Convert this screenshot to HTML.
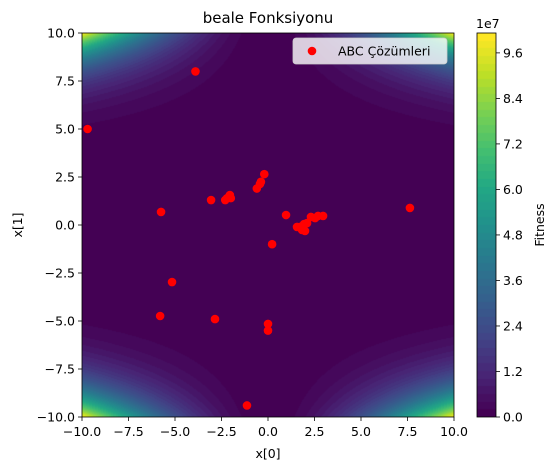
<!DOCTYPE html>
<html><head><meta charset="utf-8">
<style>
body{margin:0;background:#fff;width:557px;height:470px;overflow:hidden;font-family:"Liberation Sans","DejaVu Sans",sans-serif;}
#wrap{position:relative;width:557px;height:470px;}
canvas{position:absolute;}
svg{position:absolute;left:0;top:0;}
text{font-family:"DejaVu Sans","Liberation Sans",sans-serif;font-size:12.5px;fill:#000;}
</style></head>
<body>
<div id="wrap">
<canvas id="heat" width="372" height="384" style="left:82px;top:33px"></canvas>
<canvas id="cbar" width="19" height="384" style="left:477px;top:33px"></canvas>
<svg id="svg" width="557" height="470"></svg>
</div>
<script>
const xTicks=[-10,-7.5,-5,-2.5,0,2.5,5,7.5,10];
const yTicks=[-10,-7.5,-5,-2.5,0,2.5,5,7.5,10];
const cbTicks=[0,1.2,2.4,3.6,4.8,6.0,7.2,8.4,9.6];
const ptsX=[-3.9,-9.7,-5.75,-3.06,-2.3,-2.2,-2.05,-2.0,-0.6,-0.43,-0.38,-0.2,0.97,0.22,1.56,1.72,1.88,1.99,1.83,1.94,2.1,2.31,2.53,2.69,2.96,7.63,-5.8,-5.16,-2.85,0.0,0.0,-1.13];
const ptsY=[8.0,5.0,0.68,1.3,1.3,1.4,1.56,1.4,1.9,2.14,2.25,2.65,0.52,-1.0,-0.1,-0.1,-0.16,-0.31,-0.26,0.05,0.1,0.42,0.36,0.47,0.47,0.89,-4.74,-2.97,-4.9,-5.15,-5.5,-9.4];

const L=82,T=33,W=372,H=384;
const sx=v=>L+(v+10)/20*W, sy=v=>T+(10-v)/20*H;
function beale(x,y){return (1.5-x+x*y)**2+(2.25-x+x*y*y)**2+(2.625-x+x*y*y*y)**2;}
const vmax=Math.max(beale(10,10),beale(-10,10),beale(10,-10),beale(-10,-10));
const stops=["#440154","#482475","#414487","#355f8d","#2a788e","#21918c","#22a884","#44bf70","#7ad151","#bddf26","#fde725"].map(h=>[parseInt(h.slice(1,3),16),parseInt(h.slice(3,5),16),parseInt(h.slice(5,7),16)]);
function vir(t){t=Math.max(0,Math.min(1,t));const f=t*10,i=Math.min(9,Math.floor(f)),r=f-i;return stops[i].map((c,k)=>Math.round(c+(stops[i+1][k]-c)*r));}
const NL=50;
function band(v){const i=Math.min(NL-1,Math.floor(v/vmax*NL));return vir(i/(NL-1));}
(function(){const c=document.getElementById('heat').getContext('2d');const img=c.createImageData(W,H);
for(let j=0;j<H;j++)for(let i=0;i<W;i++){const x=-10+(i+0.5)/W*20,y=10-(j+0.5)/H*20;const col=band(beale(x,y));const p=(j*W+i)*4;img.data[p]=col[0];img.data[p+1]=col[1];img.data[p+2]=col[2];img.data[p+3]=255;}
c.putImageData(img,0,0);
const cb=document.getElementById('cbar').getContext('2d');
for(let j=0;j<H;j++){const col=band((1-(j+0.5)/H)*vmax);cb.fillStyle=`rgb(${col})`;cb.fillRect(0,j,19,1);}})();

const svg=document.getElementById('svg');const NS="http://www.w3.org/2000/svg";
function mk(tag,a,txt){const e=document.createElementNS(NS,tag);for(const k in a)e.setAttribute(k,a[k]);if(txt!==undefined)e.textContent=txt;svg.appendChild(e);return e;}
const fmt=v=>(v<0?"\u2212":"")+Math.abs(v).toFixed(1);
xTicks.forEach(v=>{const x=sx(v);
 const t=mk('line',{x1:x,x2:x,y1:T+H,y2:T+H+4,stroke:'#000','stroke-width':0.8});
 const l=mk('text',{x:x,y:T+H+19,'text-anchor':'middle'},fmt(v));});
yTicks.forEach(v=>{const y=sy(v);
 const t=mk('line',{x1:L-4,x2:L,y1:y,y2:y,stroke:'#000','stroke-width':0.8});
 const l=mk('text',{x:L-7,y:y+4.5,'text-anchor':'end'},fmt(v));});
ptsX.forEach((v,i)=>{const c=mk('circle',{cx:sx(v),cy:sy(ptsY[i]),r:4.3,fill:'#ff0000'});});
const fr=mk('rect',{x:L,y:T,width:W,height:H,fill:'none',stroke:'#000','stroke-width':0.8});
const cbx=477,cbw=19;
const cf=mk('rect',{x:cbx,y:T,width:cbw,height:H,fill:'none',stroke:'#000','stroke-width':0.8});
cbTicks.forEach(v=>{const y=T+H-v*1e7/vmax*H;
 const t=mk('line',{x1:cbx+cbw,x2:cbx+cbw+4,y1:y,y2:y,stroke:'#000','stroke-width':0.8});
 const l=mk('text',{x:cbx+cbw+7,y:y+4.5},v.toFixed(1));});
</script>
<script>
(function(){const svg=document.getElementById('svg');const NS="http://www.w3.org/2000/svg";
function mk(tag,a,txt){const e=document.createElementNS(NS,tag);for(const k in a)e.setAttribute(k,a[k]);if(txt!==undefined)e.textContent=txt;svg.appendChild(e);return e;}
let e;
e=mk('text',{x:268,y:23,'text-anchor':'middle',style:'font-size:15px'},'beale Fonksiyonu');
e=mk('text',{x:268,y:458,'text-anchor':'middle'},'x[0]');
e=mk('text',{x:0,y:0,'text-anchor':'middle',transform:'translate(22,225) rotate(-90)'},'x[1]');
e=mk('text',{x:0,y:0,'text-anchor':'middle',transform:'translate(544,225) rotate(-90)'},'Fitness');
e=mk('text',{x:476,y:28},'1e7');
e=mk('rect',{x:293,y:38,width:154,height:26,rx:3,fill:'#ffffff','fill-opacity':0.8,stroke:'#cccccc','stroke-width':0.8});
e=mk('circle',{cx:312,cy:51,r:4.3,fill:'#ff0000'});
e=mk('text',{x:338,y:55.5},'ABC Çözümleri');
})();
</script>
</body></html>
